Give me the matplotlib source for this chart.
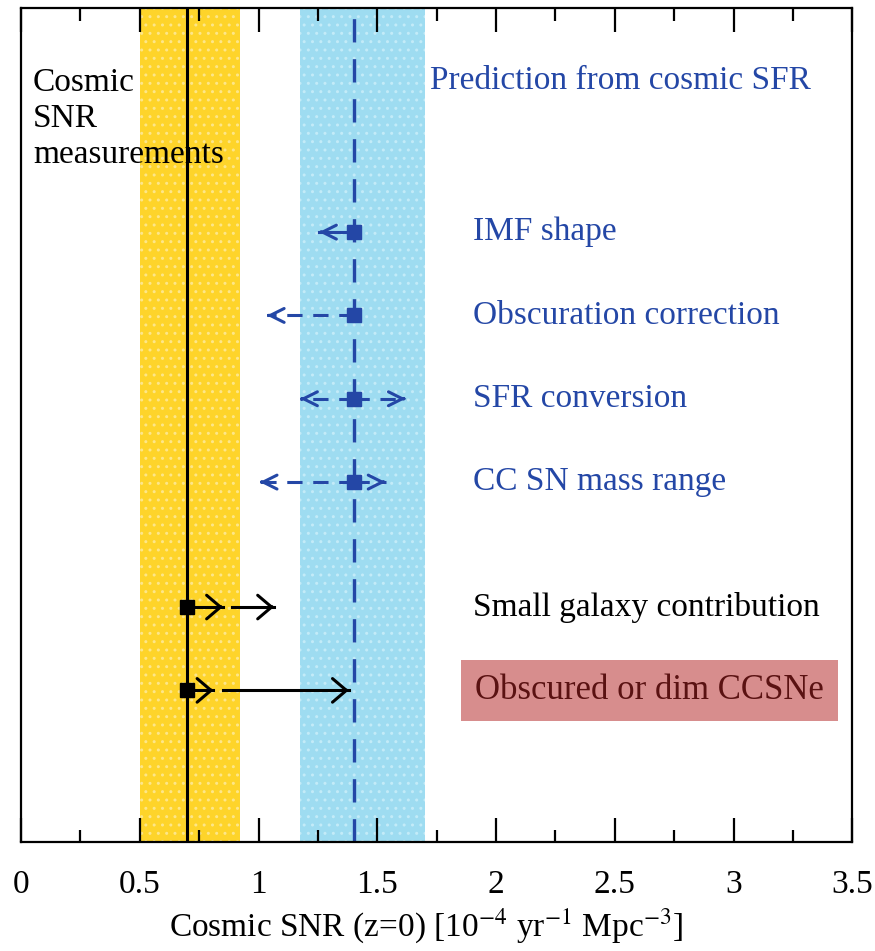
import matplotlib.pyplot as plt
from matplotlib.ticker import MultipleLocator

plt.rcParams['font.family'] = ['Liberation Serif', 'DejaVu Serif']
plt.rcParams['mathtext.fontset'] = 'stix'

# measurement band and prediction band (10^-4 yr^-1 Mpc^-3)
snr_meas = 0.70
snr_meas_band = [0.50, 0.92]
snr_pred = 1.40
snr_pred_band = [1.175, 1.70]

# uncertainty rows on the prediction side
blue_labels = ['IMF shape', 'Obscuration correction', 'SFR conversion', 'CC SN mass range']
blue_y = [5.5, 4.5, 3.5, 2.5]
blue_left = [1.255, 1.035, 1.175, 1.005]
blue_right = [None, None, 1.62, 1.535]
blue_dashed = [False, True, True, True]

# lower limits on the measurement side
black_labels = ['Small galaxy contribution', 'Obscured or dim CCSNe']
black_y = [1.0, 0.0]
black_first = [0.85, 0.81]
black_second_start = [0.89, 0.85]
black_second_end = [1.065, 1.38]

blue = '#2447a6'
yellow = '#fed42a'
cyan = '#9edcf1'
fs = 24

fig = plt.figure(figsize=(8.75, 9.51), dpi=100)
ax = fig.add_axes([0.024, 0.1146, 0.950, 0.877])

ax.axvspan(*snr_meas_band, color=yellow, lw=0, zorder=0)
ax.axvspan(*snr_meas_band, facecolor='none', edgecolor='#fde68a', hatch='..', lw=0, zorder=0.5)
ax.axvspan(*snr_pred_band, color=cyan, lw=0, zorder=0)
ax.axvspan(*snr_pred_band, facecolor='none', edgecolor='#c3ebf8', hatch='..', lw=0, zorder=0.5)
ax.axvline(snr_meas, color='black', lw=2.2, zorder=2)
ax.axvline(snr_pred, color=blue, lw=2.4, dashes=(7, 5), zorder=2)


def arrow(x0, x1, y, color, dashed, hw):
    # shaft
    if dashed:
        ax.plot([x0, x1], [y, y], color=color, lw=2.2, dashes=(5, 3.5), zorder=3)
    else:
        ax.plot([x0, x1], [y, y], color=color, lw=2.2, zorder=3)
    # solid open head
    d = 0.01 if x1 > x0 else -0.01
    ax.annotate('', xy=(x1, y), xytext=(x1 - d, y),
                arrowprops=dict(arrowstyle='->,head_length=1.0,head_width=%g' % hw,
                                color=color, lw=2.2, shrinkA=0, shrinkB=0),
                zorder=3)


for lab, y, xl, xr, d in zip(blue_labels, blue_y, blue_left, blue_right, blue_dashed):
    arrow(snr_pred, xl, y, blue, d, 0.5)
    if xr is not None:
        arrow(snr_pred, xr, y, blue, d, 0.5)
    ax.plot(snr_pred, y, 's', color=blue, ms=10, zorder=4)
    ax.text(1.905, y, lab, color=blue, fontsize=fs, va='center', ha='left')

for lab, y, x1, x2s, x2e in zip(black_labels, black_y, black_first, black_second_start, black_second_end):
    arrow(snr_meas, x1, y, 'black', False, 0.85)
    arrow(x2s, x2e, y, 'black', False, 0.85)
    ax.plot(snr_meas, y, 's', color='black', ms=10, zorder=4)

ax.text(1.905, black_y[0], black_labels[0], color='black', fontsize=fs, va='center', ha='left')
ax.text(1.912, black_y[1], black_labels[1], color='#5a1212', fontsize=25, va='center', ha='left',
        bbox=dict(boxstyle='square,pad=0.4', fc='#d78d8d', ec='none'))

ax.text(1.722, 7.32, 'Prediction from cosmic SFR', color=blue, fontsize=fs, va='center', ha='left')
ax.text(0.05, 7.47, 'Cosmic\nSNR\nmeasurements', color='black', fontsize=fs, va='top', ha='left',
        linespacing=1.22)

ax.set_xlim(0, 3.5)
ax.set_ylim(-1.82, 8.19)
ax.set_yticks([])
ax.xaxis.set_major_locator(MultipleLocator(0.5))
ax.xaxis.set_minor_locator(MultipleLocator(0.25))
ax.set_xticks([0, 0.5, 1, 1.5, 2, 2.5, 3, 3.5])
ax.set_xticklabels(['0', '0.5', '1', '1.5', '2', '2.5', '3', '3.5'])
ax.tick_params(axis='x', which='major', direction='in', top=True, length=17.5, width=1.6,
               labelsize=fs, pad=20)
ax.tick_params(axis='x', which='minor', direction='in', top=True, length=9, width=1.6)
for s in ax.spines.values():
    s.set_linewidth(1.6)
    s.set_zorder(5)

ax.set_xlabel('Cosmic SNR (z=0) [10$^{-4}$ yr$^{-1}$ Mpc$^{-3}$]', fontsize=24, va='center')
ax.xaxis.set_label_coords(0.487, -0.1)

fig.savefig('out.png', dpi=100)
